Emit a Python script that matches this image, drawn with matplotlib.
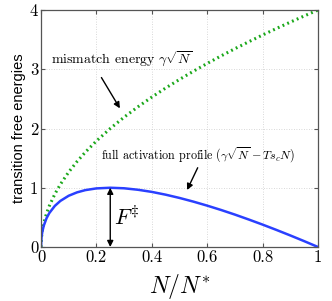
import matplotlib as mpl
import matplotlib.pyplot as plt
mpl.use('Agg')

# values
n_ratio = [0, 0.002, 0.005, 0.01, 0.02, 0.03, 0.05, 0.07, 0.1, 0.13, 0.16,
           0.2, 0.25, 0.3, 0.35, 0.4, 0.45, 0.5, 0.55, 0.6, 0.65, 0.7,
           0.75, 0.8, 0.85, 0.9, 0.95, 1.0]
mismatch = [0, 0.179, 0.283, 0.4, 0.566, 0.693, 0.894, 1.058, 1.265, 1.442,
            1.6, 1.789, 2.0, 2.191, 2.366, 2.53, 2.683, 2.828, 2.966, 3.098,
            3.225, 3.347, 3.464, 3.578, 3.688, 3.795, 3.899, 4.0]
activation = [0, 0.171, 0.263, 0.36, 0.486, 0.573, 0.694, 0.778, 0.865,
              0.922, 0.96, 0.989, 1.0, 0.991, 0.966, 0.93, 0.883, 0.828,
              0.766, 0.698, 0.625, 0.547, 0.464, 0.378, 0.288, 0.195, 0.099, 0]
x_ticks = [0, 0.2, 0.4, 0.6, 0.8, 1]
x_tick_labels = ['0', '0.2', '0.4', '0.6', '0.8', '1']
y_ticks = [0, 1, 2, 3, 4]
barrier_x = 0.25
barrier_top = 1.0

plt.rcParams['mathtext.fontset'] = 'cm'

fig = plt.figure(figsize=(3.32, 3.01), dpi=100)
ax = fig.add_axes([41 / 332, 54 / 301, 277 / 332, 237 / 301])

ax.plot(n_ratio, mismatch, color='#1aa81a', lw=2.2, ls=(0, (0.6, 1.1)))
ax.plot(n_ratio, activation, color='#2a40ff', lw=1.8)

ax.set_xlim(0, 1)
ax.set_ylim(0, 4)
ax.set_xticks(x_ticks)
ax.set_xticklabels(x_tick_labels, fontsize=12, family='cmr10')
ax.set_yticks(y_ticks)
ax.set_yticklabels([str(t) for t in y_ticks], fontsize=12, family='cmr10')
ax.tick_params(direction='in', length=3, top=True, right=True, pad=2,
               color='#555555')
ax.grid(True, ls=(0, (1, 2)), lw=0.6, color='#cccccc')
for s in ax.spines.values():
    s.set_color('#555555')
    s.set_linewidth(0.9)

ax.set_ylabel('transition free energies', fontsize=10.5,
              family='Liberation Sans', labelpad=3)
ax.set_xlabel(r'$N/N^{*}$', fontsize=17, labelpad=5)

# annotations
ax.text(0.036, 3.16, r'mismatch energy $\gamma\sqrt{N}$', family='cmr10',
        fontsize=10, va='center')
ax.annotate('', xy=(0.29, 2.3), xytext=(0.213, 2.9),
            arrowprops=dict(arrowstyle='-|>', color='black', lw=1,
                            mutation_scale=9))
ax.text(0.215, 1.55, r'full activation profile ($\gamma\sqrt{N}-Ts_cN$)',
        family='cmr10', fontsize=8.7, va='center')
ax.annotate('', xy=(0.523, 0.92), xytext=(0.57, 1.38),
            arrowprops=dict(arrowstyle='-|>', color='black', lw=1,
                            mutation_scale=9))
ax.annotate('', xy=(barrier_x, barrier_top), xytext=(barrier_x, 0),
            arrowprops=dict(arrowstyle='<|-|>', color='black', lw=1,
                            mutation_scale=9, shrinkA=0, shrinkB=0))
ax.text(barrier_x + 0.015, 0.5, r'$F^{\ddagger}$', fontsize=16, va='center')

fig.savefig('out.png', dpi=100)
